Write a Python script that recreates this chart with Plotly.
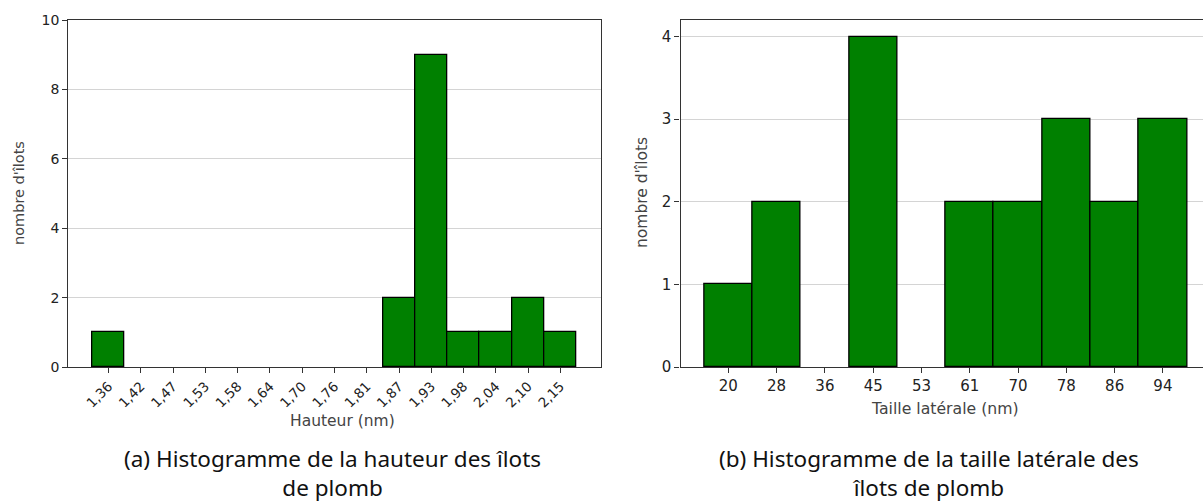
import plotly.graph_objects as go

# Histogram (a): island heights
hauteur_labels = ["1,36", "1,42", "1,47", "1,53", "1,58", "1,64", "1,70", "1,76",
                  "1,81", "1,87", "1,93", "1,98", "2,04", "2,10", "2,15"]
hauteur_counts = [1, 0, 0, 0, 0, 0, 0, 0, 0, 2, 9, 1, 1, 2, 1]

# Histogram (b): lateral size of islands
taille_labels = ["20", "28", "36", "45", "53", "61", "70", "78", "86", "94"]
taille_counts = [1, 2, 0, 4, 0, 2, 2, 3, 2, 3]

W, H = 1203, 503


def px(x):
    return x / W


def py(y):
    return 1 - y / H


BAR_COLOR = "#008000"
AXIS_COLOR = "#333333"
GRID_COLOR = "#d4d4d4"
TICK_FONT = "DejaVu Sans"
CAPTION_FONT = "Noto Sans"


def edge_widths(counts):
    # empty bins get no outline so nothing is drawn on the baseline
    return [1.3 if c > 0 else 0 for c in counts]


fig = go.Figure()

fig.add_trace(go.Bar(
    x=hauteur_labels, y=hauteur_counts, width=1.0,
    marker=dict(color=BAR_COLOR, line=dict(color="black", width=edge_widths(hauteur_counts))),
    xaxis="x", yaxis="y", showlegend=False,
))
fig.add_trace(go.Bar(
    x=taille_labels, y=taille_counts, width=1.0,
    marker=dict(color=BAR_COLOR, line=dict(color="black", width=edge_widths(taille_counts))),
    xaxis="x2", yaxis="y2", showlegend=False,
))

common_x = dict(
    type="category", showgrid=False, zeroline=False, automargin=False,
    showline=True, linecolor=AXIS_COLOR, linewidth=1.2, mirror=True,
    ticks="outside", ticklen=5, tickwidth=1, tickcolor=AXIS_COLOR,
)
common_y = dict(
    showgrid=True, gridcolor=GRID_COLOR, gridwidth=1, zeroline=False, automargin=False,
    showline=True, linecolor=AXIS_COLOR, linewidth=1.2,
    ticks="outside", ticklen=5, tickwidth=1, tickcolor=AXIS_COLOR,
)

y_dom = [py(367), py(20)]

fig.update_layout(
    width=W, height=H,
    margin=dict(l=0, r=0, t=0, b=0, autoexpand=False),
    paper_bgcolor="white", plot_bgcolor="white",
    bargap=0,
    xaxis=dict(**common_x, domain=[px(68.3), px(600.7)], anchor="y",
               range=[-1.25, 15.25], tickangle=-45,
               tickfont=dict(family=TICK_FONT, size=13.5, color="#222")),
    yaxis=dict(**common_y, domain=y_dom, anchor="x", mirror=True,
               range=[0, 10], tickvals=[0, 2, 4, 6, 8, 10],
               tickfont=dict(family=TICK_FONT, size=14, color="#222")),
    xaxis2=dict(**common_x, domain=[px(680.5), 1.0], anchor="y2",
                range=[-0.99, 9.83], tickangle=0,
                tickfont=dict(family=TICK_FONT, size=15, color="#222")),
    yaxis2=dict(**common_y, domain=y_dom, anchor="x2", mirror=False,
                range=[0, 4.2], tickvals=[0, 1, 2, 3, 4],
                tickfont=dict(family=TICK_FONT, size=15, color="#222")),
)

annotations = [
    # axis titles
    dict(text="Hauteur (nm)", x=px(342), y=py(421), font=dict(family=TICK_FONT, size=15.5, color="#444")),
    dict(text="nombre d'îlots", x=px(19), y=py(193), textangle=-90,
         font=dict(family=TICK_FONT, size=14.5, color="#444")),
    dict(text="Taille latérale (nm)", x=px(945), y=py(408), font=dict(family=TICK_FONT, size=15.7, color="#444")),
    dict(text="nombre d'îlots", x=px(642), y=py(193), textangle=-90,
         font=dict(family=TICK_FONT, size=15.5, color="#444")),
    # captions
    dict(text="(a) Histogramme de la hauteur des îlots<br>de plomb", x=px(332), y=py(473),
         font=dict(family=CAPTION_FONT, size=22.5, color="#111")),
    dict(text="(b) Histogramme de la taille latérale des<br>îlots de plomb", x=px(929), y=py(473),
         font=dict(family=CAPTION_FONT, size=22.5, color="#111")),
]
for a in annotations:
    a.update(xref="paper", yref="paper", showarrow=False, xanchor="center", yanchor="middle",
             align="center", borderpad=0)
    fig.add_annotation(**a)

fig.write_html("out.html")
